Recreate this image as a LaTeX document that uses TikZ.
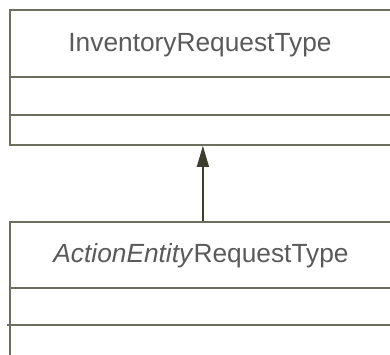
\documentclass[tikz,border=0pt]{standalone}
\usepackage{fontspec}
\setmainfont{Liberation Sans}
\usetikzlibrary{arrows.meta}
\definecolor{boxline}{HTML}{6E6E5E}
\definecolor{arrowcol}{HTML}{3E3E2E}
\definecolor{txt}{HTML}{5A5A5A}
\tikzset{
  classbox/.style={draw=boxline, line width=1.8pt, fill=white, minimum width=386pt, inner sep=0pt, anchor=north west},
  divider/.style={draw=boxline, line width=1.8pt},
  title/.style={text=txt, font=\fontsize{26.3}{30}\selectfont, inner sep=0pt},
  inherit/.style={draw=arrowcol, line width=1.3pt, -{Triangle[length=21pt,width=12pt,fill=arrowcol]}}
}
\begin{document}
\begin{tikzpicture}[x=1pt,y=-1pt]
\useasboundingbox (0,0) rectangle (390,354);
\clip (0,0) rectangle (390,354);
\node[classbox, minimum height=135pt] (top) at (9,9) {};
\node[classbox, minimum height=140pt] (low) at (9,221) {};
\draw[divider] (9,77) -- (395,77);
\draw[divider] (9,115) -- (395,115);
\draw[divider] (9,288) -- (395,288);
\draw[divider] (7,325) -- (395,325);
\node[title] (toptitle) at (200,45) {InventoryRequestType};
\node[title] (lowtitle) at (201,256) {\textit{ActionEntity}RequestType};
\draw[inherit] (low.north) -- (top.south);
\end{tikzpicture}
\end{document}
